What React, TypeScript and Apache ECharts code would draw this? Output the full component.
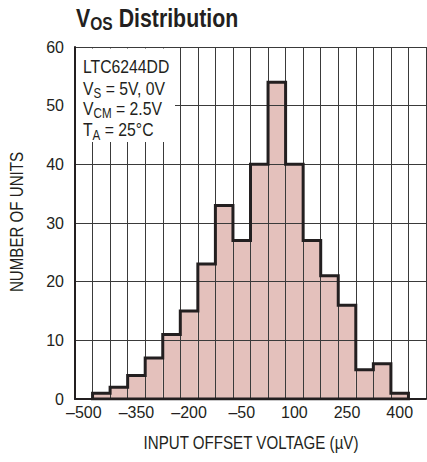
import React, { useEffect, useRef } from "react";
import * as echarts from "echarts";

// Histogram bins (µV, bin centers) and counts
const binCenters = [-500, -450, -400, -350, -300, -250, -200, -150, -100, -50, 0, 50, 100, 150, 200, 250, 300, 350, 400, 450];
const binLabels = ["–500", "–450", "–400", "–350", "–300", "–250", "–200", "–150", "–100", "–50", "0", "50", "100", "150", "200", "250", "300", "350", "400", "450"];
const counts = [0, 1, 2, 4, 7, 11, 15, 23, 33, 27, 40, 54, 40, 27, 21, 16, 5, 6, 1, 0];
const binWidth = 50;
const yMin = 0;
const yMax = 60;
const yInterval = 10;

const FONT = "'Liberation Sans', Arial, Helvetica, sans-serif";
const INK = "#231f20";
const GRIDC = "#3a3a3a";
const FILL = "#e4c1bc";
const CONDENSE = 0.83;

function outlinePoints(): number[][] {
  const first = counts.findIndex((c) => c > 0);
  let last = counts.length - 1;
  while (last >= 0 && counts[last] === 0) last--;
  const h = binWidth / 2;
  const pts: number[][] = [[binCenters[first] - h, 0]];
  for (let i = first; i <= last; i++) {
    pts.push([binCenters[i] - h, counts[i]]);
    pts.push([binCenters[i] + h, counts[i]]);
  }
  pts.push([binCenters[last] + h, 0]);
  pts.push([binCenters[first] - h, 0]);
  return pts;
}

export default function App() {
  const ref = useRef<HTMLDivElement>(null);
  useEffect(() => {
    if (!ref.current) return;
    const chart = echarts.init(ref.current, undefined, { renderer: "svg" });
    const main = { fontSize: 19, verticalAlign: "top", fontFamily: FONT, fill: INK };
    const sub = { fontSize: 14, padding: [7.5, 0, 0, 0], verticalAlign: "bottom", fontFamily: FONT, fill: INK };
    const boxLines = [
      { text: "{m|LTC6244DD}", y: 57 },
      { text: "{m|V}{s|S}{m| = 5V, 0V}", y: 78.8 },
      { text: "{m|V}{s|CM}{m| = 2.5V}", y: 98.8 },
      { text: "{m|T}{s|A}{m| = 25°C}", y: 120.4 },
    ];
    chart.setOption({
      animation: false,
      grid: { left: 75, right: 1, top: 47, bottom: 63, containLabel: false },
      xAxis: [
        {
          type: "category",
          data: binLabels,
          z: 3,
          boundaryGap: true,
          axisLine: { show: true, onZero: false, lineStyle: { color: INK, width: 2 } },
          axisTick: { show: false },
          axisLabel: { interval: 2, color: INK, fontSize: 16, fontFamily: FONT, margin: 5 },
          splitLine: { show: true, interval: 0, lineStyle: { color: GRIDC, width: 1 } },
        },
        {
          type: "value",
          min: binCenters[0] - binWidth / 2,
          max: binCenters[binCenters.length - 1] + binWidth / 2,
          show: false,
        },
      ],
      yAxis: {
        type: "value",
        min: yMin,
        max: yMax,
        interval: yInterval,
        z: 3,
        axisLine: { show: true, onZero: false, lineStyle: { color: INK, width: 2 } },
        axisTick: { show: false },
        axisLabel: { color: INK, fontSize: 16, fontFamily: FONT, margin: 11 },
        splitLine: { show: true, lineStyle: { color: GRIDC, width: 1 } },
      },
      series: [
        {
          type: "bar",
          data: counts,
          xAxisIndex: 0,
          barCategoryGap: "0%",
          itemStyle: { color: FILL },
          z: 2,
          silent: true,
        },
        {
          type: "line",
          xAxisIndex: 1,
          data: outlinePoints(),
          symbol: "none",
          lineStyle: { color: INK, width: 3, join: "miter", cap: "square" },
          z: 5,
          silent: true,
        },
      ],
      graphic: [
        {
          type: "text",
          x: 76,
          y: 4.7,
          scaleX: 0.82,
          z: 10,
          style: {
            text: "{m|V}{s|OS}{m| Distribution}",
            verticalAlign: "top",
            rich: {
              m: { fontSize: 26, fontWeight: "bold", verticalAlign: "top", fontFamily: FONT, fill: INK },
              s: { fontSize: 19, fontWeight: "bold", padding: [9.5, 0, 0, 0], verticalAlign: "bottom", fontFamily: FONT, fill: INK },
            },
          },
        },
        {
          type: "text",
          x: 251,
          y: 443.5,
          scaleX: 0.84,
          z: 10,
          style: {
            text: "INPUT OFFSET VOLTAGE (µV)",
            fontSize: 18,
            fontFamily: FONT,
            fill: INK,
            align: "center",
            verticalAlign: "middle",
          },
        },
        {
          type: "text",
          x: 17,
          y: 222,
          rotation: Math.PI / 2,
          scaleX: 0.84,
          z: 10,
          style: {
            text: "NUMBER OF UNITS",
            fontSize: 18,
            fontFamily: FONT,
            fill: INK,
            align: "center",
            verticalAlign: "middle",
          },
        },
        {
          type: "rect",
          z: 10,
          shape: { x: 76, y: 48.5, width: 99, height: 93.5 },
          style: { fill: "#ffffff" },
        },
        ...boxLines.map((l) => ({
          type: "text",
          x: 83,
          y: l.y,
          scaleX: CONDENSE,
          z: 11,
          style: { text: l.text, rich: { m: main, s: sub }, verticalAlign: "top" },
        })),
      ],
    });
    return () => chart.dispose();
  }, []);
  return <div ref={ref} style={{ width: 427, height: 462, position: "absolute", left: 0, top: 0 }} />;
}
